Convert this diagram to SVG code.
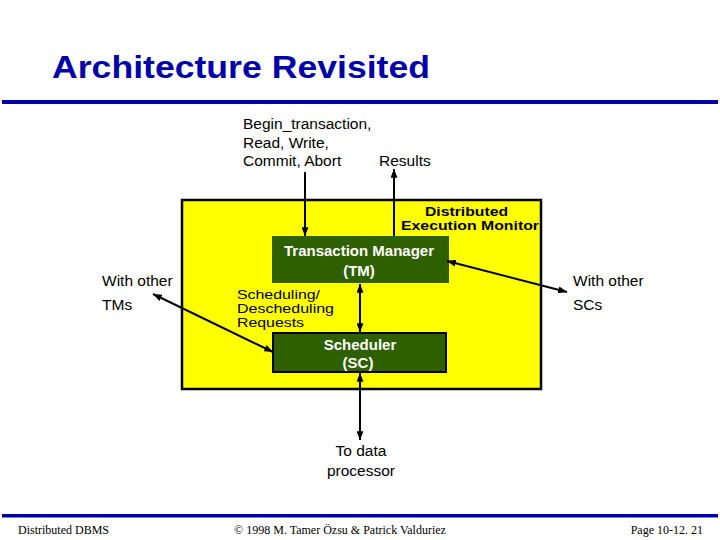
<svg xmlns="http://www.w3.org/2000/svg" width="720" height="540" viewBox="0 0 720 540">
<style>
.t{font-family:"Liberation Sans",Arial,sans-serif;font-size:15.5px;fill:#000}
.s{font-family:"Liberation Sans",Arial,sans-serif;font-size:13px;fill:#000}
.b{font-family:"Liberation Sans",Arial,sans-serif;font-size:15px;font-weight:bold}
.d{font-family:"Liberation Sans",Arial,sans-serif;font-size:13px;font-weight:bold;fill:#000}
.w{fill:#fff;text-anchor:middle}
.f{font-family:"Liberation Serif","Times New Roman",serif;font-size:12px;fill:#000}
.c{stroke:#000;stroke-width:2;fill:none}
</style>
<defs>
<marker id="ah" viewBox="0 0 10 8" markerWidth="9" markerHeight="7" refX="10" refY="4" orient="auto-start-reverse" markerUnits="userSpaceOnUse">
<path d="M0,0 L10,4 L0,8 z" fill="#000"/>
</marker>
</defs>
<rect x="0" y="0" width="720" height="540" fill="#fff"/>
<g id="title">
<text x="52" y="78" font-family="'Liberation Sans',Arial,sans-serif" font-size="31" font-weight="bold" fill="#0000AA" textLength="378" lengthAdjust="spacingAndGlyphs">Architecture Revisited</text>
<rect x="2" y="100" width="716" height="4" fill="#0000AA"/>
</g>
<g id="dem">
<rect x="182" y="200" width="359" height="189" fill="#FFFF00" stroke="#000" stroke-width="2.5"/>
<text class="d" x="425" y="215.5" textLength="83" lengthAdjust="spacingAndGlyphs">Distributed</text>
<text class="d" x="401" y="230" textLength="138" lengthAdjust="spacingAndGlyphs">Execution Monitor</text>
</g>
<g id="tm">
<rect x="272" y="236" width="177" height="47" fill="#2F6000"/>
<text class="b w" x="359" y="256">Transaction Manager</text>
<text class="b w" x="359" y="276">(TM)</text>
</g>
<g id="sc">
<rect x="273" y="333" width="173" height="39" fill="#2F6000" stroke="#000" stroke-width="2"/>
<text class="b w" x="360" y="350">Scheduler</text>
<text class="b w" x="358" y="368">(SC)</text>
</g>
<g id="labels">
<text class="t" x="243" y="129">Begin_transaction,</text>
<text class="t" x="243" y="147.5">Read, Write,</text>
<text class="t" x="243" y="166">Commit, Abort</text>
<text class="t" x="379" y="166">Results</text>
<text class="s" x="237" y="299" textLength="83" lengthAdjust="spacingAndGlyphs">Scheduling/</text>
<text class="s" x="237" y="313" textLength="97" lengthAdjust="spacingAndGlyphs">Descheduling</text>
<text class="s" x="237" y="327" textLength="67" lengthAdjust="spacingAndGlyphs">Requests</text>
<text class="t" x="102" y="286">With other</text>
<text class="t" x="102" y="310">TMs</text>
<text class="t" x="573" y="286">With other</text>
<text class="t" x="573" y="310">SCs</text>
<text class="t" x="361" y="456" text-anchor="middle">To data</text>
<text class="t" x="361" y="476" text-anchor="middle">processor</text>
</g>
<g id="connectors">
<line class="c" x1="305" y1="172" x2="305" y2="236" stroke-width="1.5" marker-end="url(#ah)"/>
<line class="c" x1="394" y1="236" x2="394" y2="169" stroke-width="1.5" marker-end="url(#ah)"/>
<line class="c" x1="360" y1="284" x2="360" y2="332" marker-start="url(#ah)" marker-end="url(#ah)"/>
<line class="c" x1="360" y1="373" x2="360" y2="440" marker-start="url(#ah)" marker-end="url(#ah)"/>
<line class="c" x1="153" y1="294" x2="273" y2="352" stroke-width="2.5" marker-start="url(#ah)" marker-end="url(#ah)"/>
<line class="c" x1="447" y1="261" x2="567" y2="292" stroke-width="2.5" marker-start="url(#ah)" marker-end="url(#ah)"/>
</g>
<g id="footer">
<rect x="2" y="514" width="716" height="3.5" fill="#0000AA"/>
<text class="f" x="18" y="534">Distributed DBMS</text>
<text class="f" x="340" y="534" text-anchor="middle">© 1998 M. Tamer Özsu &amp; Patrick Valduriez</text>
<text class="f" x="703" y="534" text-anchor="end">Page 10-12. 21</text>
</g>
</svg>
